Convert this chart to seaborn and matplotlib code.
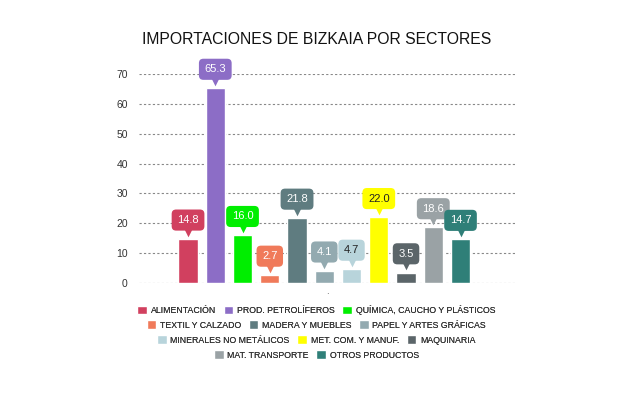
import matplotlib
matplotlib.use("Agg")
import matplotlib.pyplot as plt
import matplotlib.transforms as mtransforms
import seaborn as sns

# Datos
sectores = ["ALIMENTACIÓN", "PROD. PETROLÍFEROS", "QUÍMICA, CAUCHO Y PLÁSTICOS",
            "TEXTIL Y CALZADO", "MADERA Y MUEBLES", "PAPEL Y ARTES GRÁFICAS",
            "MINERALES NO METÁLICOS", "MET. COM. Y MANUF.", "MAQUINARIA",
            "MAT. TRANSPORTE", "OTROS PRODUCTOS"]
valores = [14.8, 65.3, 16.0, 2.7, 21.8, 4.1, 4.7, 22.0, 3.5, 18.6, 14.7]
colores = ["#d1405f", "#8c6dc6", "#00ee00", "#f07a5a", "#5f7c80", "#93aab0",
           "#b8d4db", "#ffff00", "#5b6569", "#9aa2a5", "#2f7f78"]
texto_oscuro = {"MINERALES NO METÁLICOS", "MET. COM. Y MANUF."}
filas_leyenda = [3, 3, 3, 2]

sns.set_theme(style="white")
plt.rcParams["font.family"] = ["Liberation Sans", "DejaVu Sans"]

fig = plt.figure(figsize=(6.39, 4.0), dpi=100)
ax = fig.add_axes([0.2175, 0.2925, 0.5885, 0.5225])

sns.barplot(x=sectores, y=valores, hue=sectores, palette=colores, order=sectores,
            hue_order=sectores, width=0.7, legend=False, saturation=1, ax=ax)

ax.set_ylim(0, 70)
ax.set_xlim(-1.8, 12.0)
ax.set_yticks(range(0, 71, 10))
ax.set_xticks([])
ax.tick_params(axis="y", length=0, labelsize=7.5, labelcolor="#333333", pad=8)
ax.yaxis.grid(True, linestyle=(0, (2, 2)), color="#888888", linewidth=0.8)
ax.set_axisbelow(True)
for s in ax.spines.values():
    s.set_visible(False)
ax.set_ylabel("")
ax.set_xlabel(".", fontsize=7, color="#555555", labelpad=2)

# Etiquetas tipo globo sobre cada barra
tri = mtransforms.offset_copy(ax.transData, fig=fig, x=0, y=4.5, units="points")
for i, (s, v, c) in enumerate(zip(sectores, valores, colores)):
    tc = "#222222" if s in texto_oscuro else "white"
    ax.annotate(f"{v:.1f}", xy=(i, v), xytext=(0, 13.5), textcoords="offset points",
                ha="center", va="center", fontsize=8, color=tc,
                bbox=dict(boxstyle="round,pad=0.5,rounding_size=0.4", fc=c, ec="none"),
                annotation_clip=False, zorder=5)
    ax.scatter([i], [v], marker="v", s=30, color=c, transform=tri, clip_on=False, zorder=5,
               linewidths=0)

fig.text(0.495, 0.9, "IMPORTACIONES DE BIZKAIA POR SECTORES", ha="center", va="center",
         fontsize=11.3, color="#111111")

# Leyenda centrada en filas
handles = [p for p in ax.patches]
inicio = 0
y_fila = 0.225
for n in filas_leyenda:
    leg = fig.legend(handles[inicio:inicio + n], sectores[inicio:inicio + n], ncol=n,
                     loc="center", bbox_to_anchor=(0.495, y_fila), frameon=False,
                     fontsize=6.3, handlelength=1.1, handleheight=1.1, handletextpad=0.4,
                     columnspacing=0.9, borderpad=0, borderaxespad=0)
    for t in leg.get_texts():
        t.set_color("#333333")
    fig.add_artist(leg)
    inicio += n
    y_fila -= 0.0375

fig.savefig("out.png", dpi=100, facecolor="white")
